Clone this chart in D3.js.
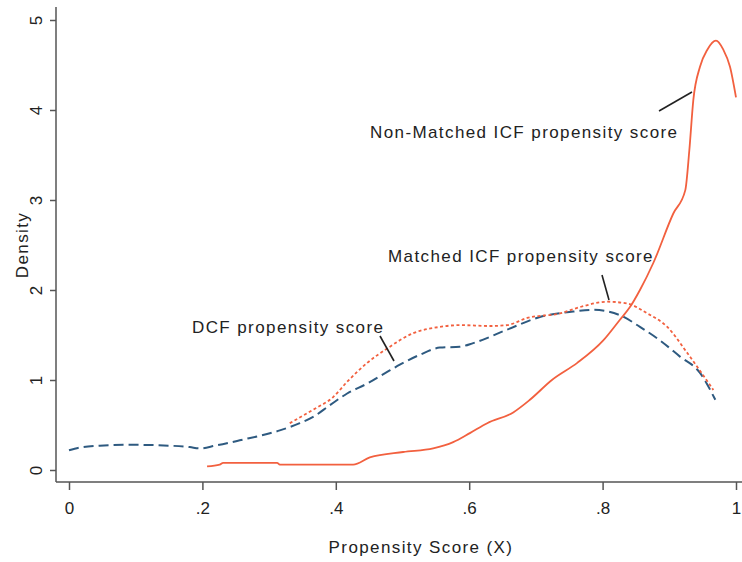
<!DOCTYPE html>
<html>
<head>
<meta charset="UTF-8">
<script src="https://d3js.org/d3.v7.min.js"></script>
<style>
    body { margin: 0; background: #fff; }
    text { font-family: "Liberation Sans", Arial, sans-serif; fill: #222; }
    .lbl { font-size: 17px; letter-spacing: 1.4px; }
    .tick text { font-size: 17px; }
</style>
</head>
<body>
<svg width="742" height="562"></svg>
<script>
// Non-Matched ICF propensity score (solid)
var nonMatchedX = [.207, .226, .231, .312, .316, .426, .451, .501, .546, .576, .601, .627, .666, .691, .724, .762, .801, .826, .841, .856, .876, .906, .924, .930, .936, .946, .957, .970, .981, .991, 1.0];
var nonMatchedY = [0.04, 0.06, 0.08, 0.08, 0.06, 0.06, 0.14, 0.20, 0.24, 0.31, 0.41, 0.52, 0.64, 0.78, 1.00, 1.19, 1.44, 1.67, 1.81, 2.00, 2.30, 2.85, 3.11, 3.55, 4.11, 4.48, 4.67, 4.77, 4.67, 4.48, 4.14];

// Matched ICF propensity score (dotted)
var matchedX = [.331, .366, .396, .417, .447, .477, .516, .556, .586, .631, .657, .687, .736, .766, .807, .837, .867, .897, .927, .966];
var matchedY = [0.52, 0.67, 0.81, 0.98, 1.19, 1.35, 1.52, 1.59, 1.61, 1.60, 1.61, 1.69, 1.74, 1.81, 1.87, 1.85, 1.74, 1.59, 1.30, 0.89];

// DCF propensity score (dashed)
var dcfX = [0, .016, .046, .091, .151, .181, .196, .219, .256, .316, .346, .366, .391, .417, .447, .477, .496, .526, .556, .586, .606, .657, .706, .756, .786, .826, .856, .886, .916, .946, .969];
var dcfY = [0.22, 0.25, 0.27, 0.28, 0.27, 0.255, 0.24, 0.27, 0.33, 0.44, 0.52, 0.59, 0.72, 0.85, 0.96, 1.09, 1.17, 1.28, 1.36, 1.37, 1.41, 1.56, 1.70, 1.76, 1.78, 1.72, 1.59, 1.44, 1.26, 1.08, 0.78];

var xTicks = [0, .2, .4, .6, .8, 1];
var xTickLabels = ["0", ".2", ".4", ".6", ".8", "1"];
var yTicks = [0, 1, 2, 3, 4, 5];

var red = "#f2603f", blue = "#2e5a80", axisCol = "#555";

var svg = d3.select("svg");
var x = d3.scaleLinear().domain([0, 1]).range([69, 736]);
var y = d3.scaleLinear().domain([0, 5]).range([470, 20]);

function zip(xs, ys) {
    return xs.map(function(v, i) { return [v, ys[i]]; });
}
var line = d3.line()
    .x(function(d) { return x(d[0]); })
    .y(function(d) { return y(d[1]); })
    .curve(d3.curveMonotoneX);

// axes
var xAxis = svg.append("g")
    .attr("transform", "translate(0,482)")
    .call(d3.axisBottom(x).tickValues(xTicks)
        .tickFormat(function(d, i) { return xTickLabels[i]; })
        .tickSize(8).tickPadding(12).tickSizeOuter(0));
xAxis.select(".domain").attr("d", "M56,0H742");

var yAxis = svg.append("g")
    .attr("transform", "translate(56,0)")
    .call(d3.axisLeft(y).tickValues(yTicks).tickFormat(d3.format("d"))
        .tickSize(6).tickPadding(0).tickSizeOuter(0));
yAxis.select(".domain").attr("d", "M0,7V482");
yAxis.selectAll(".tick text")
    .attr("x", null).attr("dy", null)
    .attr("text-anchor", "middle")
    .attr("transform", "translate(-14,0) rotate(-90)");

svg.selectAll(".domain, .tick line").attr("stroke", axisCol).attr("stroke-width", 1.5);

// curves
svg.append("path").datum(zip(dcfX, dcfY))
    .attr("d", line).attr("fill", "none")
    .attr("stroke", blue).attr("stroke-width", 2)
    .attr("stroke-dasharray", "10,5");

svg.append("path").datum(zip(matchedX, matchedY))
    .attr("d", line).attr("fill", "none")
    .attr("stroke", red).attr("stroke-width", 1.8)
    .attr("stroke-dasharray", "3,2.5");

svg.append("path").datum(zip(nonMatchedX, nonMatchedY))
    .attr("d", line).attr("fill", "none")
    .attr("stroke", red).attr("stroke-width", 1.8);

// annotations
var notes = [
    { t: "Non-Matched ICF propensity score", x: 370, y: 138, l: [659, 111, 692, 92] },
    { t: "Matched ICF propensity score", x: 388, y: 262, l: [602, 275, 609, 300] },
    { t: "DCF propensity score", x: 192, y: 333, l: [380, 336, 394, 361] }
];
notes.forEach(function(n) {
    svg.append("text").attr("class", "lbl").attr("x", n.x).attr("y", n.y).text(n.t);
    svg.append("line")
        .attr("x1", n.l[0]).attr("y1", n.l[1]).attr("x2", n.l[2]).attr("y2", n.l[3])
        .attr("stroke", "#222").attr("stroke-width", 1.6);
});

// axis titles
svg.append("text").attr("class", "lbl")
    .attr("x", 421).attr("y", 553).attr("text-anchor", "middle")
    .text("Propensity Score (X)");
svg.append("text").attr("class", "lbl")
    .attr("transform", "translate(28,245) rotate(-90)")
    .attr("text-anchor", "middle")
    .text("Density");
</script>
</body>
</html>
